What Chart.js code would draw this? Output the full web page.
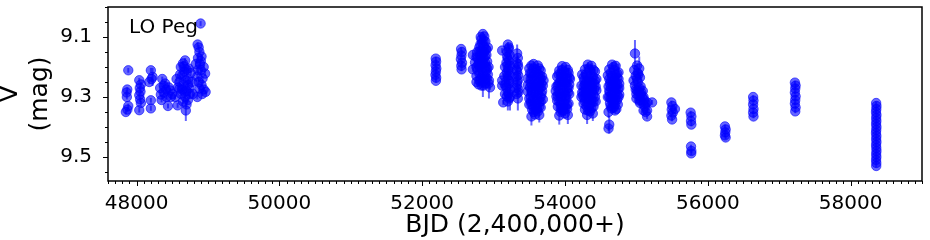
<!DOCTYPE html>
<html>
<head>
<meta charset="utf-8">
<script src="https://cdn.jsdelivr.net/npm/chart.js@4.4.1/dist/chart.umd.min.js"></script>
<style>
  html, body { margin: 0; padding: 0; background: #fff; }
  #wrap { width: 930px; height: 240px; }
</style>
</head>
<body>
<div id="wrap"><canvas id="lightCurve" width="930" height="240"></canvas></div>
<script>
// each row: [BJD - 2400000, V (mag), error (mag)]
const season1990 = [
  [47850, 9.350, 0.008], [47864, 9.300, 0.008], [47870, 9.275, 0.008], [47884, 9.211, 0.008],
  [47884, 9.330, 0.008], [47872, 9.342, 0.008], [47860, 9.285, 0.008],
  [48038, 9.244, 0.008], [48060, 9.258, 0.008], [48045, 9.270, 0.008], [48038, 9.294, 0.008],
  [48055, 9.282, 0.008], [48060, 9.320, 0.008], [48038, 9.344, 0.008], [48050, 9.308, 0.008],
  [48200, 9.211, 0.008], [48224, 9.233, 0.030], [48178, 9.250, 0.008], [48200, 9.311, 0.008],
  [48200, 9.338, 0.008], [48210, 9.240, 0.008],
  [48360, 9.240, 0.008], [48400, 9.255, 0.008], [48330, 9.270, 0.008], [48450, 9.268, 0.008],
  [48380, 9.285, 0.008], [48500, 9.290, 0.008], [48420, 9.300, 0.008], [48350, 9.310, 0.008],
  [48440, 9.330, 0.008], [48575, 9.328, 0.008], [48540, 9.300, 0.008], [48470, 9.278, 0.008],
  [48340, 9.292, 0.008], [48410, 9.275, 0.008], [48380, 9.262, 0.008], [48480, 9.300, 0.008],
  [48620, 9.200, 0.008], [48650, 9.188, 0.008], [48680, 9.178, 0.008], [48700, 9.208, 0.008],
  [48640, 9.228, 0.008], [48600, 9.250, 0.008], [48720, 9.240, 0.008], [48660, 9.260, 0.008],
  [48580, 9.268, 0.008], [48700, 9.280, 0.008], [48620, 9.290, 0.008], [48740, 9.270, 0.008],
  [48680, 9.300, 0.008], [48720, 9.310, 0.008], [48690, 9.345, 0.035], [48760, 9.220, 0.008],
  [48780, 9.250, 0.008], [48790, 9.290, 0.008], [48560, 9.240, 0.008], [48650, 9.315, 0.008],
  [48670, 9.215, 0.008], [48690, 9.245, 0.008], [48640, 9.275, 0.008], [48610, 9.225, 0.008],
  [48730, 9.205, 0.008], [48750, 9.290, 0.008], [48700, 9.325, 0.008], [48660, 9.198, 0.008],
  [48720, 9.260, 0.008], [48670, 9.282, 0.008], [48600, 9.272, 0.008],
  [48897, 9.055, 0.008], [48855, 9.125, 0.008], [48870, 9.135, 0.008], [48880, 9.150, 0.008],
  [48860, 9.170, 0.008], [48890, 9.190, 0.008], [48900, 9.210, 0.008], [48850, 9.232, 0.008],
  [48870, 9.250, 0.008], [48880, 9.272, 0.008], [48920, 9.290, 0.008], [48925, 9.238, 0.008],
  [48967, 9.283, 0.008], [48940, 9.200, 0.008], [48960, 9.222, 0.008], [48850, 9.300, 0.008],
  [48830, 9.190, 0.008], [48910, 9.165, 0.008], [48900, 9.180, 0.008], [48860, 9.210, 0.008],
  [48910, 9.260, 0.008], [48940, 9.275, 0.008]
];
const season2001 = [
  [52190, 9.172, 0.006], [52195, 9.182, 0.006], [52188, 9.194, 0.006], [52198, 9.205, 0.006],
  [52192, 9.215, 0.006], [52186, 9.226, 0.006], [52196, 9.236, 0.006], [52192, 9.246, 0.006]
];
const season2002 = [
  [52545, 9.140, 0.006], [52555, 9.150, 0.006], [52550, 9.162, 0.006], [52542, 9.174, 0.006],
  [52558, 9.186, 0.006], [52548, 9.196, 0.006], [52552, 9.208, 0.006]
];
const season2003 = [
  [52850, 9.090, 0.008], [52870, 9.098, 0.008], [52830, 9.108, 0.008], [52885, 9.115, 0.008],
  [52815, 9.125, 0.008], [52860, 9.130, 0.008], [52900, 9.142, 0.008], [52800, 9.148, 0.008],
  [52845, 9.155, 0.008], [52880, 9.165, 0.008], [52760, 9.168, 0.008], [52820, 9.175, 0.008],
  [52910, 9.182, 0.008], [52785, 9.192, 0.008], [52860, 9.190, 0.008], [52710, 9.160, 0.008],
  [52710, 9.208, 0.008], [52835, 9.205, 0.008], [52900, 9.215, 0.008], [52800, 9.222, 0.008],
  [52870, 9.232, 0.008], [52820, 9.240, 0.008], [52950, 9.268, 0.008], [52885, 9.255, 0.008],
  [52760, 9.230, 0.008], [52740, 9.185, 0.008], [52920, 9.135, 0.008], [52850, 9.250, 0.050],
  [52935, 9.245, 0.060], [52790, 9.258, 0.008], [52905, 9.238, 0.008], [52840, 9.180, 0.008],
  [52780, 9.210, 0.008], [52930, 9.200, 0.008], [52840, 9.120, 0.008], [52870, 9.150, 0.008],
  [52780, 9.170, 0.008], [52890, 9.200, 0.008], [52760, 9.200, 0.008], [52850, 9.220, 0.008],
  [52800, 9.200, 0.008], [52920, 9.225, 0.008], [52860, 9.262, 0.008], [52810, 9.160, 0.008],
  [52820, 9.100, 0.008], [52860, 9.112, 0.008], [52800, 9.135, 0.008], [52890, 9.140, 0.008],
  [52830, 9.145, 0.008], [52770, 9.150, 0.008], [52900, 9.160, 0.008], [52860, 9.170, 0.008],
  [52800, 9.185, 0.008], [52880, 9.185, 0.008], [52820, 9.195, 0.008], [52910, 9.205, 0.008],
  [52840, 9.230, 0.008], [52880, 9.240, 0.008], [52800, 9.245, 0.008], [52930, 9.255, 0.008],
  [52830, 9.262, 0.008], [52760, 9.250, 0.008]
];
const season2004 = [
  [53200, 9.125, 0.008], [53215, 9.135, 0.008], [53190, 9.150, 0.008], [53120, 9.145, 0.008],
  [53225, 9.160, 0.008], [53200, 9.172, 0.008], [53180, 9.185, 0.008], [53230, 9.195, 0.008],
  [53205, 9.205, 0.008], [53185, 9.218, 0.008], [53225, 9.228, 0.008], [53120, 9.245, 0.008],
  [53200, 9.240, 0.008], [53215, 9.255, 0.008], [53120, 9.262, 0.008], [53180, 9.268, 0.008],
  [53230, 9.275, 0.008], [53200, 9.285, 0.008], [53185, 9.298, 0.008], [53220, 9.305, 0.008],
  [53135, 9.318, 0.008], [53200, 9.315, 0.030], [53230, 9.300, 0.045], [53160, 9.200, 0.008],
  [53160, 9.290, 0.008], [53150, 9.230, 0.008], [53210, 9.140, 0.008], [53190, 9.165, 0.008],
  [53215, 9.180, 0.008], [53195, 9.195, 0.008], [53210, 9.212, 0.008], [53195, 9.230, 0.008],
  [53215, 9.245, 0.008], [53195, 9.262, 0.008], [53210, 9.290, 0.008], [53160, 9.260, 0.008],
  [53330, 9.155, 0.030], [53340, 9.170, 0.008], [53320, 9.185, 0.008], [53345, 9.200, 0.008],
  [53330, 9.215, 0.008], [53320, 9.232, 0.008], [53340, 9.245, 0.008], [53330, 9.260, 0.008],
  [53350, 9.275, 0.008], [53325, 9.290, 0.008], [53340, 9.305, 0.040], [53340, 9.190, 0.008],
  [53320, 9.210, 0.008], [53345, 9.228, 0.008], [53330, 9.250, 0.008], [53320, 9.270, 0.008],
  [53345, 9.285, 0.008]
];
const season2005 = [
  [53560, 9.190, 0.008], [53620, 9.195, 0.008], [53500, 9.205, 0.008], [53590, 9.208, 0.008],
  [53660, 9.212, 0.008], [53530, 9.222, 0.008], [53620, 9.225, 0.008], [53680, 9.232, 0.008],
  [53480, 9.238, 0.008], [53570, 9.240, 0.008], [53640, 9.248, 0.008], [53520, 9.255, 0.008],
  [53600, 9.258, 0.008], [53690, 9.262, 0.008], [53550, 9.270, 0.008], [53630, 9.275, 0.008],
  [53480, 9.282, 0.008], [53580, 9.285, 0.008], [53670, 9.290, 0.008], [53520, 9.298, 0.008],
  [53610, 9.302, 0.008], [53690, 9.308, 0.008], [53550, 9.312, 0.008], [53640, 9.318, 0.008],
  [53500, 9.325, 0.008], [53590, 9.330, 0.008], [53660, 9.335, 0.008], [53540, 9.342, 0.008],
  [53620, 9.348, 0.008], [53580, 9.358, 0.008], [53530, 9.365, 0.030], [53640, 9.360, 0.025],
  [53530, 9.195, 0.008], [53600, 9.218, 0.008], [53550, 9.232, 0.008], [53660, 9.240, 0.008],
  [53510, 9.268, 0.008], [53580, 9.265, 0.008], [53660, 9.268, 0.008], [53540, 9.285, 0.008],
  [53620, 9.290, 0.008], [53500, 9.305, 0.008], [53580, 9.310, 0.008], [53660, 9.315, 0.008],
  [53530, 9.325, 0.008], [53610, 9.340, 0.008], [53560, 9.350, 0.008], [53680, 9.280, 0.008],
  [53700, 9.245, 0.008], [53480, 9.260, 0.008], [53560, 9.205, 0.008], [53640, 9.205, 0.008],
  [53510, 9.220, 0.008], [53580, 9.225, 0.008], [53650, 9.228, 0.008], [53520, 9.240, 0.008],
  [53600, 9.245, 0.008], [53670, 9.255, 0.008], [53560, 9.255, 0.008], [53630, 9.262, 0.008],
  [53530, 9.282, 0.008], [53600, 9.295, 0.008], [53660, 9.300, 0.008], [53520, 9.315, 0.008],
  [53600, 9.322, 0.008], [53640, 9.332, 0.008], [53560, 9.335, 0.008], [53590, 9.345, 0.008]
];
const season2006 = [
  [53960, 9.197, 0.008], [54010, 9.200, 0.008], [53920, 9.212, 0.008], [53990, 9.215, 0.008],
  [54050, 9.220, 0.008], [53890, 9.232, 0.008], [53960, 9.232, 0.008], [54030, 9.238, 0.008],
  [53930, 9.250, 0.008], [54000, 9.252, 0.008], [54060, 9.258, 0.008], [53880, 9.265, 0.008],
  [53960, 9.268, 0.008], [54030, 9.272, 0.008], [53910, 9.282, 0.008], [53990, 9.285, 0.008],
  [54060, 9.290, 0.008], [53880, 9.298, 0.008], [53950, 9.300, 0.008], [54020, 9.305, 0.008],
  [53920, 9.315, 0.008], [53990, 9.318, 0.008], [54050, 9.322, 0.008], [53900, 9.332, 0.008],
  [53970, 9.335, 0.008], [54030, 9.340, 0.008], [53940, 9.350, 0.008], [54000, 9.355, 0.008],
  [53920, 9.362, 0.030], [54040, 9.360, 0.030],
  [53940, 9.225, 0.008], [54020, 9.222, 0.008], [53910, 9.255, 0.008], [53980, 9.250, 0.008],
  [54050, 9.270, 0.008], [53930, 9.290, 0.008], [54010, 9.295, 0.008], [53890, 9.312, 0.008],
  [53960, 9.315, 0.008], [54030, 9.325, 0.008], [53940, 9.338, 0.008], [53980, 9.345, 0.008],
  [54070, 9.240, 0.008], [53870, 9.280, 0.008], [53960, 9.210, 0.008], [54040, 9.210, 0.008],
  [53910, 9.225, 0.008], [53980, 9.230, 0.008], [54060, 9.235, 0.008], [53950, 9.245, 0.008],
  [54020, 9.255, 0.008], [53900, 9.262, 0.008], [53980, 9.262, 0.008], [54040, 9.285, 0.008],
  [53960, 9.285, 0.008], [53900, 9.295, 0.008], [54000, 9.305, 0.008], [53940, 9.325, 0.008],
  [54010, 9.335, 0.008], [53960, 9.345, 0.008]
];
const season2007 = [
  [54320, 9.192, 0.008], [54370, 9.196, 0.008], [54280, 9.208, 0.008], [54350, 9.210, 0.008],
  [54420, 9.215, 0.008], [54240, 9.225, 0.008], [54310, 9.228, 0.008], [54390, 9.232, 0.008],
  [54440, 9.240, 0.008], [54270, 9.245, 0.008], [54340, 9.248, 0.008], [54410, 9.255, 0.008],
  [54230, 9.262, 0.008], [54300, 9.265, 0.008], [54380, 9.270, 0.008], [54440, 9.278, 0.008],
  [54260, 9.282, 0.008], [54330, 9.288, 0.008], [54400, 9.292, 0.008], [54230, 9.300, 0.008],
  [54300, 9.305, 0.008], [54370, 9.310, 0.008], [54430, 9.315, 0.008], [54260, 9.322, 0.008],
  [54330, 9.328, 0.008], [54400, 9.332, 0.008], [54280, 9.342, 0.008], [54350, 9.348, 0.008],
  [54310, 9.360, 0.030], [54390, 9.355, 0.025],
  [54290, 9.225, 0.008], [54360, 9.230, 0.008], [54300, 9.248, 0.008], [54380, 9.252, 0.008],
  [54260, 9.265, 0.008], [54340, 9.270, 0.008], [54410, 9.275, 0.008], [54290, 9.290, 0.008],
  [54360, 9.292, 0.008], [54270, 9.305, 0.008], [54340, 9.310, 0.008], [54400, 9.315, 0.008],
  [54300, 9.330, 0.008], [54370, 9.338, 0.008], [54240, 9.285, 0.008], [54330, 9.205, 0.008],
  [54400, 9.210, 0.008], [54260, 9.235, 0.008], [54330, 9.240, 0.008], [54420, 9.245, 0.008],
  [54280, 9.258, 0.008], [54360, 9.262, 0.008], [54430, 9.265, 0.008], [54290, 9.275, 0.008],
  [54370, 9.282, 0.008], [54250, 9.295, 0.008], [54420, 9.300, 0.008], [54330, 9.300, 0.008],
  [54280, 9.315, 0.008], [54360, 9.322, 0.008], [54320, 9.345, 0.008]
];
const season2008 = [
  [54660, 9.192, 0.008], [54710, 9.196, 0.008], [54620, 9.208, 0.008], [54690, 9.210, 0.008],
  [54750, 9.218, 0.030], [54600, 9.228, 0.008], [54660, 9.230, 0.008], [54730, 9.236, 0.008],
  [54640, 9.248, 0.008], [54700, 9.250, 0.008], [54760, 9.256, 0.008], [54610, 9.265, 0.008],
  [54680, 9.268, 0.008], [54740, 9.274, 0.008], [54630, 9.285, 0.008], [54700, 9.288, 0.008],
  [54760, 9.292, 0.008], [54600, 9.300, 0.008], [54670, 9.305, 0.008], [54730, 9.310, 0.008],
  [54630, 9.320, 0.008], [54700, 9.325, 0.008], [54650, 9.338, 0.008], [54720, 9.340, 0.008],
  [54610, 9.350, 0.020], [54620, 9.392, 0.030], [54610, 9.405, 0.008],
  [54640, 9.220, 0.008], [54710, 9.225, 0.008], [54670, 9.250, 0.008], [54730, 9.258, 0.008],
  [54640, 9.268, 0.008], [54710, 9.272, 0.008], [54660, 9.288, 0.008], [54730, 9.292, 0.008],
  [54640, 9.305, 0.008], [54700, 9.308, 0.008], [54670, 9.322, 0.008], [54680, 9.335, 0.008],
  [54680, 9.200, 0.008], [54730, 9.222, 0.008], [54620, 9.240, 0.008], [54690, 9.238, 0.008],
  [54750, 9.240, 0.008], [54630, 9.255, 0.008], [54700, 9.262, 0.008], [54760, 9.270, 0.008],
  [54620, 9.280, 0.008], [54690, 9.280, 0.008], [54750, 9.300, 0.008], [54620, 9.300, 0.008],
  [54690, 9.315, 0.008], [54740, 9.325, 0.008], [54640, 9.330, 0.008], [54700, 9.345, 0.008]
];
const season2009 = [
  [54980, 9.155, 0.045], [54970, 9.210, 0.008], [54960, 9.245, 0.008], [55010, 9.195, 0.008],
  [55040, 9.205, 0.040], [54990, 9.230, 0.008], [55050, 9.235, 0.008], [55020, 9.250, 0.008],
  [54980, 9.262, 0.008], [55060, 9.265, 0.008], [55010, 9.278, 0.008], [55070, 9.285, 0.008],
  [55030, 9.295, 0.008], [55080, 9.300, 0.008], [55040, 9.312, 0.008], [55100, 9.300, 0.008],
  [55150, 9.318, 0.008], [55220, 9.318, 0.008], [55120, 9.332, 0.008], [55150, 9.345, 0.008],
  [55150, 9.365, 0.008], [55100, 9.325, 0.008], [55020, 9.220, 0.008], [55040, 9.270, 0.008],
  [55000, 9.290, 0.008], [55090, 9.280, 0.008], [55060, 9.310, 0.008], [55130, 9.350, 0.008],
  [55010, 9.240, 0.008], [55030, 9.225, 0.008], [54990, 9.275, 0.008], [55030, 9.282, 0.008],
  [55060, 9.290, 0.008], [55000, 9.305, 0.008], [55050, 9.320, 0.008], [55110, 9.310, 0.008],
  [55130, 9.322, 0.008], [55100, 9.345, 0.008]
];
const season2010 = [
  [55490, 9.318, 0.006], [55505, 9.330, 0.006], [55495, 9.342, 0.006], [55510, 9.352, 0.006],
  [55490, 9.362, 0.006], [55500, 9.375, 0.006], [55540, 9.340, 0.006]
];
const season2011 = [
  [55760, 9.352, 0.006], [55770, 9.365, 0.006], [55765, 9.380, 0.006], [55770, 9.392, 0.006],
  [55765, 9.465, 0.006], [55770, 9.480, 0.006], [55768, 9.488, 0.006]
];
const season2012 = [
  [56240, 9.398, 0.006], [56250, 9.408, 0.006], [56245, 9.418, 0.006], [56240, 9.428, 0.006],
  [56250, 9.435, 0.006]
];
const season2013 = [
  [56635, 9.300, 0.006], [56640, 9.312, 0.006], [56635, 9.325, 0.006], [56640, 9.340, 0.006],
  [56635, 9.352, 0.006], [56640, 9.365, 0.006]
];
const season2015 = [
  [57220, 9.252, 0.006], [57230, 9.262, 0.006], [57225, 9.272, 0.006], [57220, 9.285, 0.006],
  [57230, 9.298, 0.006], [57225, 9.310, 0.006], [57220, 9.322, 0.006], [57230, 9.335, 0.006],
  [57225, 9.348, 0.006]
];
const season2018 = [
  [58358, 9.320, 0.005], [58362, 9.330, 0.005], [58360, 9.340, 0.005], [58356, 9.350, 0.005],
  [58362, 9.360, 0.005], [58358, 9.370, 0.005], [58361, 9.380, 0.005], [58357, 9.390, 0.005],
  [58362, 9.400, 0.005], [58359, 9.410, 0.005], [58356, 9.420, 0.005], [58361, 9.430, 0.005],
  [58358, 9.440, 0.005], [58362, 9.450, 0.005], [58357, 9.460, 0.005], [58360, 9.470, 0.005],
  [58362, 9.480, 0.005], [58358, 9.490, 0.005], [58361, 9.500, 0.005], [58357, 9.510, 0.005],
  [58360, 9.520, 0.005], [58359, 9.530, 0.005]
];

const xTickLabels = [48000, 50000, 52000, 54000, 56000, 58000];
const yTickLabels = [9.1, 9.3, 9.5];
const starName = "LO Peg";

const allPoints = [].concat(season1990, season2001, season2002, season2003, season2004,
  season2005, season2006, season2007, season2008, season2009, season2010, season2011,
  season2012, season2013, season2015, season2018);

const BLUE = "rgba(0, 0, 255, 0.6)";
const FONT = "DejaVu Sans";

// vertical error bars, drawn under the markers
const errorBars = {
  id: "errorBars",
  beforeDatasetsDraw(chart) {
    const { ctx, chartArea, scales } = chart;
    ctx.save();
    ctx.beginPath();
    ctx.rect(chartArea.left, chartArea.top, chartArea.width, chartArea.height);
    ctx.clip();
    ctx.strokeStyle = BLUE;
    ctx.lineWidth = 2;
    allPoints.forEach(function (p) {
      const px = scales.x.getPixelForValue(p[0]);
      ctx.beginPath();
      ctx.moveTo(px, scales.y.getPixelForValue(p[1] - p[2]));
      ctx.lineTo(px, scales.y.getPixelForValue(p[1] + p[2]));
      ctx.stroke();
    });
    ctx.restore();
  }
};

// box, major/minor ticks and the star label
const frame = {
  id: "frame",
  afterDraw(chart) {
    const { ctx, chartArea: a, scales } = chart;
    ctx.save();
    ctx.strokeStyle = "#000";
    ctx.lineWidth = 1;
    for (let v = 47600; v <= 59000; v += 100) {
      const px = Math.round(scales.x.getPixelForValue(v)) + 0.5;
      const len = v % 2000 === 0 ? 5 : 3;
      ctx.beginPath();
      ctx.moveTo(px, a.bottom);
      ctx.lineTo(px, a.bottom + len);
      ctx.stroke();
    }
    for (let i = 0; i <= 11; i++) {
      const v = 9.0 + i * 0.05;
      const py = Math.round(scales.y.getPixelForValue(v)) + 0.5;
      const len = (i % 4 === 2) ? 5 : 3;
      ctx.beginPath();
      ctx.moveTo(a.left, py);
      ctx.lineTo(a.left - len, py);
      ctx.stroke();
    }
    ctx.lineWidth = 1.5;
    ctx.strokeRect(a.left, a.top, a.right - a.left, a.bottom - a.top);
    ctx.fillStyle = "#000";
    ctx.font = "20px '" + FONT + "'";
    ctx.textBaseline = "alphabetic";
    ctx.fillText(starName, a.left + 21, a.top + 26);
    ctx.restore();
  }
};

const ctx = document.getElementById("lightCurve").getContext("2d");

new Chart(ctx, {
  type: "scatter",
  data: {
    datasets: [{
      data: allPoints.map(function (p) { return { x: p[0], y: p[1] }; }),
      backgroundColor: BLUE,
      borderColor: BLUE,
      borderWidth: 1,
      pointRadius: 4.7,
      pointHoverRadius: 4.7
    }]
  },
  options: {
    responsive: false,
    animation: false,
    layout: { padding: { top: 7, right: 8, left: 0, bottom: 0 } },
    plugins: { legend: { display: false }, tooltip: { enabled: false } },
    scales: {
      x: {
        type: "linear",
        min: 47600,
        max: 59000,
        afterBuildTicks: function (scale) {
          scale.ticks = xTickLabels.map(function (v) { return { value: v }; });
        },
        afterFit: function (scale) {
          scale.height = 59;
          scale.paddingLeft = 0;
          scale.paddingRight = 0;
        },
        ticks: {
          color: "#000",
          font: { family: FONT, size: 20 },
          padding: 6,
          maxRotation: 0,
          autoSkip: false,
          callback: function (v) { return String(v); }
        },
        grid: { display: true, drawOnChartArea: false, tickLength: 5, color: "rgba(0,0,0,0)" },
        border: { display: false },
        title: {
          display: true,
          text: "BJD (2,400,000+)",
          color: "#000",
          font: { family: FONT, size: 25 },
          padding: { top: 0, bottom: 0 }
        }
      },
      y: {
        type: "linear",
        reverse: true,
        min: 9.0,
        max: 9.58,
        afterBuildTicks: function (scale) {
          scale.ticks = yTickLabels.map(function (v) { return { value: v }; });
        },
        afterFit: function (scale) {
          scale.width = 108;
          scale.paddingTop = 0;
          scale.paddingBottom = 0;
        },
        ticks: {
          color: "#000",
          font: { family: FONT, size: 20 },
          padding: 11,
          callback: function (v) { return v.toFixed(1); }
        },
        grid: { display: true, drawOnChartArea: false, tickLength: 5, color: "rgba(0,0,0,0)" },
        border: { display: false },
        title: {
          display: true,
          text: ["V", "(mag)"],
          color: "#000",
          font: { family: FONT, size: 25 },
          padding: { top: -5, bottom: 0 }
        }
      }
    }
  },
  plugins: [errorBars, frame]
});
</script>
</body>
</html>
